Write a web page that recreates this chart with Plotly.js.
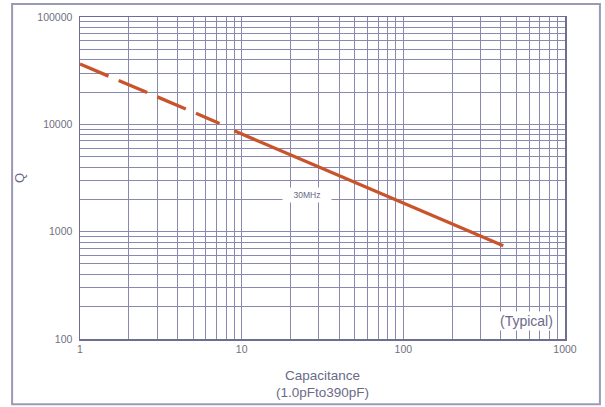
<!DOCTYPE html>
<html><head><meta charset="utf-8">
<script src="https://cdn.plot.ly/plotly-3.0.1.min.js"></script>
<style>html,body{margin:0;padding:0;background:#fff}#c{width:605px;height:407px}</style>
</head><body><div id="c"></div>
<script>
// Data
const capDashed = [1, 7.3];
const qDashed = [36500, 10200];
const capSolid = [9, 415];
const qSolid = [8700, 740];
const xTickVals = [1, 10, 100, 1000];
const xTickText = ['1', '10', '100', '1000'];
const yTickVals = [100, 1000, 10000, 100000];
const yTickText = ['100', '1000', '10000', '100000'];
const freqLabel = '30MHz';
const noteLabel = '(Typical)';

function minorVals(lo, hi) {
  const v = [];
  for (let d = lo; d < hi; d *= 10) for (let k = 2; k <= 9; k++) v.push(d * k);
  return v;
}
const gridCol = '#8888b0';
const lineCol = '#c9542c';
const textCol = '#6a6a88';

const traces = [
  {x: capDashed, y: qDashed, mode: 'lines', line: {color: lineCol, width: 3.3, dash: '31px,11px'}, hoverinfo: 'skip'},
  {x: capSolid, y: qSolid, mode: 'lines', line: {color: lineCol, width: 3.3}, hoverinfo: 'skip'}
];

const layout = {
  width: 605, height: 407,
  margin: {l: 80, r: 40, t: 17, b: 68},
  paper_bgcolor: '#fff', plot_bgcolor: '#fff',
  showlegend: false,
  font: {family: 'Liberation Sans, Arial, sans-serif', color: textCol},
  xaxis: {
    type: 'log', range: [0, 3], tickvals: xTickVals, ticktext: xTickText,
    showgrid: true, gridcolor: gridCol, gridwidth: 1,
    minor: {tickvals: minorVals(1, 1000), showgrid: true, gridcolor: gridCol, gridwidth: 1, ticks: ''},
    showline: true, linecolor: '#6e6e90', linewidth: 1.5, mirror: true,
    ticks: '', tickfont: {size: 10.5, color: '#707080'}, zeroline: false,
    title: {text: 'Capacitance<br>(1.0pFto390pF)', font: {size: 13.5, color: textCol}, standoff: 16}
  },
  yaxis: {
    type: 'log', range: [2, 5], tickvals: yTickVals, ticktext: yTickText,
    showgrid: true, gridcolor: gridCol, gridwidth: 1,
    minor: {tickvals: minorVals(100, 100000), showgrid: true, gridcolor: gridCol, gridwidth: 1, ticks: ''},
    showline: true, linecolor: '#6e6e90', linewidth: 1.5, mirror: true,
    ticks: '', tickfont: {size: 10.5, color: '#707080'}, zeroline: false,
    ticklabelstandoff: 4,
    title: {text: 'Q', font: {size: 13, color: textCol}, standoff: 10}
  },
  annotations: [
    {x: Math.log10(25.3), y: Math.log10(2200), xref: 'x', yref: 'y', text: freqLabel, showarrow: false,
     font: {size: 8.5, color: '#666680'}, bgcolor: '#fff', width: 46, height: 12, borderpad: 1},
    {x: 0.98, y: 0.025, xref: 'paper', yref: 'paper', xanchor: 'right', text: noteLabel, showarrow: false,
     font: {size: 14, color: textCol}, bgcolor: '#fff', borderpad: 1}
  ],
  shapes: [
    {type: 'rect', xref: 'paper', yref: 'paper', x0: -0.14, x1: 1.072, y0: -0.203, y1: 1.04,
     line: {color: '#9a9ab8', width: 2}, fillcolor: 'rgba(0,0,0,0)', layer: 'below'}
  ]
};
Plotly.newPlot('c', traces, layout, {staticPlot: true, displayModeBar: false});
</script></body></html>
